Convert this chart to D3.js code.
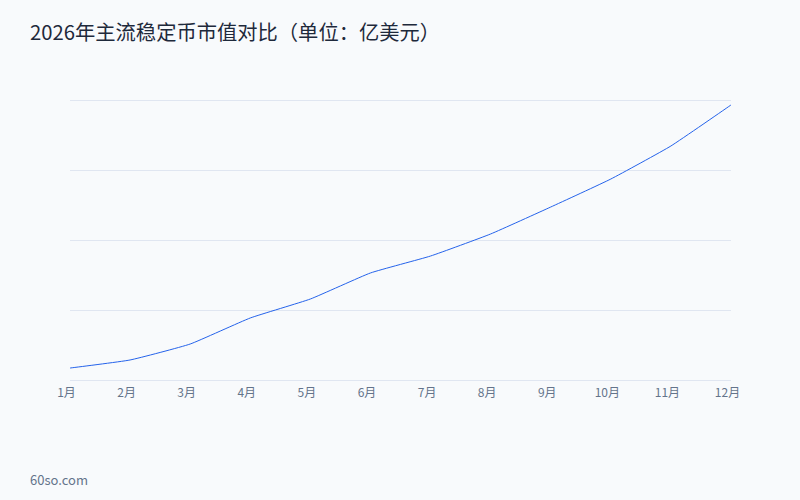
<!DOCTYPE html>
<html><head><meta charset="utf-8">
<script src="https://cdn.jsdelivr.net/npm/d3@7/dist/d3.min.js"></script>
<style>
html,body{margin:0;padding:0;background:#f8fafc;}
text{font-family:"Noto Sans CJK SC","Noto Sans",sans-serif;}
</style></head>
<body><svg id="c" width="800" height="500"></svg>
<script>
const months = ["1月","2月","3月","4月","5月","6月","7月","8月","9月","10月","11月","12月"];
const marketCap = [171, 286, 514, 886, 1157, 1529, 1771, 2086, 2471, 2871, 3343, 3929];
const yTicks = [0, 1000, 2000, 3000, 4000];
const title = "2026年主流稳定币市值对比（单位：亿美元）";
const footer = "60so.com";

const svg = d3.select("#c");
svg.append("rect").attr("width",800).attr("height",500).attr("fill","#f8fafc");
const m = {l:70, r:69, t:100, b:120};
const W = 800, H = 500;
const x = d3.scalePoint().domain(months).range([m.l, W-m.r]);
const y = d3.scaleLinear().domain([0,4000]).range([H-m.b, m.t]);

svg.append("text").attr("x",30).attr("y",40).attr("font-size",20.3)
  .attr("fill","#1e293b").text(title);

svg.append("g").selectAll("line").data(yTicks).join("line")
  .attr("x1",m.l).attr("x2",W-m.r)
  .attr("y1",d=>y(d)+0.5).attr("y2",d=>y(d)+0.5)
  .attr("stroke","#e0e6f1").attr("stroke-width",1);

const xa = svg.append("g").attr("transform",`translate(0,${H-m.b})`)
  .call(d3.axisBottom(x).tickSize(0).tickPadding(8));
xa.select(".domain").remove();
xa.selectAll("text").attr("font-size",12).attr("fill","#64748b").attr("dx",-4)
  .attr("font-family","\"Noto Sans CJK SC\",sans-serif");

const line = d3.line().x((d,i)=>x(months[i])).y(d=>y(d)).curve(d3.curveCardinal.tension(0.6));
svg.append("path").datum(marketCap).attr("d",line)
  .attr("fill","none").attr("stroke","#2563eb").attr("stroke-width",1);

svg.append("text").attr("x",30).attr("y",485).attr("font-size",13)
  .attr("fill","#64748b").text(footer);
</script></body></html>
